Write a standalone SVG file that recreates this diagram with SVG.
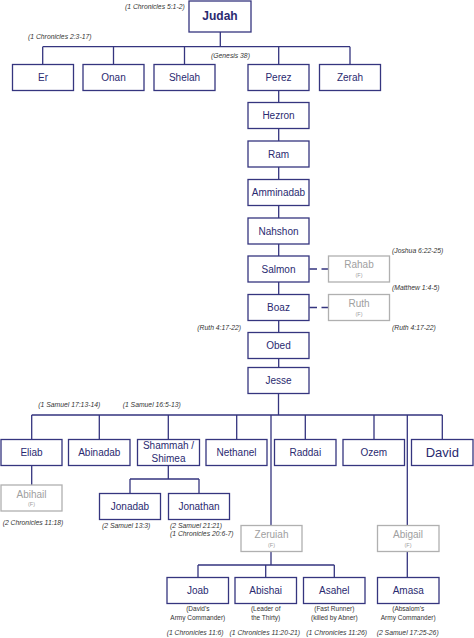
<svg xmlns="http://www.w3.org/2000/svg" width="474" height="638" viewBox="0 0 474 638">
<style>
.b{fill:#fff;stroke:#35357f;stroke-width:1.3}
.g{fill:#fff;stroke:#b0b0b0;stroke-width:1.3}
.t{font-family:"Liberation Sans",Arial,sans-serif;font-size:10px;fill:#2a2a70;text-anchor:middle}
.gt{font-family:"Liberation Sans",Arial,sans-serif;font-size:10px;fill:#a0a0a0;text-anchor:middle}
.f{font-family:"Liberation Sans",Arial,sans-serif;font-size:5.5px;fill:#a0a0a0;text-anchor:middle}
.a{font-family:"Liberation Sans",Arial,sans-serif;font-size:6.8px;font-style:italic;fill:#333}
.s{font-family:"Liberation Sans",Arial,sans-serif;font-size:6.5px;fill:#333;text-anchor:middle}
.c{fill:none;stroke:#35357f;stroke-width:1.3}
.d{fill:none;stroke:#35357f;stroke-width:1.3;stroke-dasharray:7.5 4.5}
</style>
<rect width="474" height="638" fill="#fff"/>
<g id="connectors">
<path class="c" d="M220.3 32V46.7M42.7 46.7H350M42.7 46.7V64.5M113.5 46.7V64.5M184.5 46.7V64.5M278.7 46.7V64.5M350 46.7V64.5"/>
<path class="c" d="M278.7 90.5V102.5M278.7 128.5V141M278.7 167V179.5M278.7 205.5V218M278.7 244V256M278.7 282V294.5M278.7 320.5V332.5M278.7 358.5V367.5"/>
<path class="d" d="M309.5 269H328.5M309.5 307.5H328.5"/>
<path class="c" d="M278.5 393.5V415M31.7 415H442.3M31.7 415V439.5M99.3 415V439.5M168.3 415V439.5M236.7 415V439.5M305.3 415V439.5M374 415V439.5M442.3 415V439.5M271 415V525.5M407.3 415V525.5"/>
<path class="c" d="M31.7 465.5V485"/>
<path class="c" d="M168.3 465.5V479M130 479H199M130 479V493.5M199 479V493.5"/>
<path class="c" d="M271 551.5V565M198 565H334.3M198 565V577.5M265.7 565V577.5M334.3 565V577.5"/>
<path class="c" d="M407.3 551.5V577.5"/>
</g>
<g id="judah"><rect class="b" x="189" y="1" width="62" height="31"/><text class="t" x="220" y="19.8" style="font-weight:bold;font-size:12px">Judah</text></g>
<g id="er"><rect class="b" x="12.5" y="64.5" width="61" height="26"/><text class="t" x="43" y="81">Er</text></g>
<g id="onan"><rect class="b" x="83" y="64.5" width="61" height="26"/><text class="t" x="113.5" y="81">Onan</text></g>
<g id="shelah"><rect class="b" x="154" y="64.5" width="61" height="26"/><text class="t" x="184.5" y="81">Shelah</text></g>
<g id="perez"><rect class="b" x="248" y="64.5" width="61" height="26"/><text class="t" x="278.5" y="81">Perez</text></g>
<g id="zerah"><rect class="b" x="319.5" y="64.5" width="61" height="26"/><text class="t" x="350" y="81">Zerah</text></g>
<g id="hezron"><rect class="b" x="248" y="102.5" width="61" height="26"/><text class="t" x="278.5" y="119">Hezron</text></g>
<g id="ram"><rect class="b" x="248" y="141" width="61" height="26"/><text class="t" x="278.5" y="157.5">Ram</text></g>
<g id="amminadab"><rect class="b" x="248" y="179.5" width="61" height="26"/><text class="t" x="278.5" y="196">Amminadab</text></g>
<g id="nahshon"><rect class="b" x="248" y="218" width="61" height="26"/><text class="t" x="278.5" y="234.5">Nahshon</text></g>
<g id="salmon"><rect class="b" x="248" y="256" width="61" height="26"/><text class="t" x="278.5" y="272.5">Salmon</text></g>
<g id="rahab"><rect class="g" x="328.5" y="256" width="61" height="26"/><text class="gt" x="359" y="268">Rahab</text><text class="f" x="359" y="277">(F)</text></g>
<g id="boaz"><rect class="b" x="248" y="294.5" width="61" height="26"/><text class="t" x="278.5" y="311">Boaz</text></g>
<g id="ruth"><rect class="g" x="328.5" y="294.5" width="61" height="26"/><text class="gt" x="359" y="306.5">Ruth</text><text class="f" x="359" y="315.5">(F)</text></g>
<g id="obed"><rect class="b" x="248" y="332.5" width="61" height="26"/><text class="t" x="278.5" y="349">Obed</text></g>
<g id="jesse"><rect class="b" x="248" y="367.5" width="61" height="26"/><text class="t" x="278.5" y="384">Jesse</text></g>
<g id="eliab"><rect class="b" x="1" y="439.5" width="61" height="26"/><text class="t" x="31.5" y="456">Eliab</text></g>
<g id="abinadab"><rect class="b" x="68.5" y="439.5" width="61.5" height="26"/><text class="t" x="99.3" y="456">Abinadab</text></g>
<g id="shammah"><rect class="b" x="137.5" y="439.5" width="62" height="26"/><text class="t" x="168.5" y="449.3">Shammah /</text><text class="t" x="168.5" y="461.8">Shimea</text></g>
<g id="nethanel"><rect class="b" x="206" y="439.5" width="61" height="26"/><text class="t" x="236.5" y="456">Nethanel</text></g>
<g id="raddai"><rect class="b" x="274.5" y="439.5" width="61.5" height="26"/><text class="t" x="305.3" y="456">Raddai</text></g>
<g id="ozem"><rect class="b" x="343" y="439.5" width="61.5" height="26"/><text class="t" x="373.8" y="456">Ozem</text></g>
<g id="david"><rect class="b" x="411.5" y="439.5" width="61.5" height="26"/><text class="t" x="442.3" y="457" style="font-size:13px">David</text></g>
<g id="abihail"><rect class="g" x="1" y="485" width="61" height="26"/><text class="gt" x="31.5" y="497.5">Abihail</text><text class="f" x="31.5" y="505.5">(F)</text></g>
<g id="jonadab"><rect class="b" x="99.5" y="493.5" width="61" height="26"/><text class="t" x="130" y="510">Jonadab</text></g>
<g id="jonathan"><rect class="b" x="168.5" y="493.5" width="61" height="26"/><text class="t" x="199" y="510">Jonathan</text></g>
<g id="zeruiah"><rect class="g" x="241" y="525.5" width="61" height="26"/><text class="gt" x="271.5" y="537.5">Zeruiah</text><text class="f" x="271.5" y="546.5">(F)</text></g>
<g id="abigail"><rect class="g" x="377.5" y="525.5" width="61.5" height="26"/><text class="gt" x="408" y="537.5">Abigail</text><text class="f" x="408" y="546.5">(F)</text></g>
<g id="joab"><rect class="b" x="167" y="577.5" width="61.5" height="26"/><text class="t" x="197.8" y="594">Joab</text><text class="s" x="197.8" y="611.3">(David's</text><text class="s" x="197.8" y="620.3">Army Commander)</text></g>
<g id="abishai"><rect class="b" x="235" y="577.5" width="61.5" height="26"/><text class="t" x="265.7" y="594">Abishai</text><text class="s" x="265.7" y="611.3">(Leader of</text><text class="s" x="265.7" y="620.3">the Thirty)</text></g>
<g id="asahel"><rect class="b" x="303.5" y="577.5" width="61.5" height="26"/><text class="t" x="334.3" y="594">Asahel</text><text class="s" x="334.3" y="611.3">(Fast Runner)</text><text class="s" x="334.3" y="620.3">(killed by Abner)</text></g>
<g id="amasa"><rect class="b" x="377.5" y="577.5" width="61.5" height="26"/><text class="t" x="408.2" y="594">Amasa</text><text class="s" x="408.2" y="611.3">(Absalom's</text><text class="s" x="408.2" y="620.3">Army Commander)</text></g>
<g id="references">
<text class="a" x="125" y="8.5">(1 Chronicles 5:1-2)</text>
<text class="a" x="28" y="39">(1 Chronicles 2:3-17)</text>
<text class="a" x="211" y="57.7">(Genesis 38)</text>
<text class="a" x="392" y="253.4">(Joshua 6:22-25)</text>
<text class="a" x="392" y="289.7">(Matthew 1:4-5)</text>
<text class="a" x="197.3" y="329.7">(Ruth 4:17-22)</text>
<text class="a" x="392" y="329.7">(Ruth 4:17-22)</text>
<text class="a" x="38.3" y="406.7">(1 Samuel 17:13-14)</text>
<text class="a" x="122.7" y="406.7">(1 Samuel 16:5-13)</text>
<text class="a" x="2.7" y="524.7">(2 Chronicles 11:18)</text>
<text class="a" x="102" y="528">(2 Samuel 13:3)</text>
<text class="a" x="170" y="528">(2 Samuel 21:21)</text>
<text class="a" x="170" y="536.4">(1 Chronicles 20:6-7)</text>
<text class="a" x="166.7" y="635.4">(1 Chronicles 11:6)</text>
<text class="a" x="229.5" y="635.4">(1 Chronicles 11:20-21)</text>
<text class="a" x="306.3" y="635.4">(1 Chronicles 11:26)</text>
<text class="a" x="376.7" y="635.4">(2 Samuel 17:25-26)</text>
</g>
</svg>
